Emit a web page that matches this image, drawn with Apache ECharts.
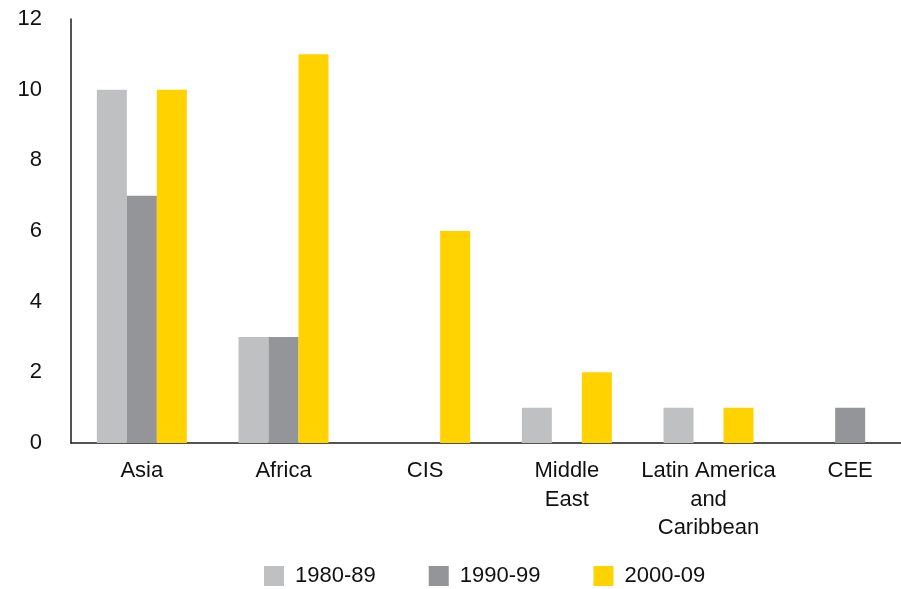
<!DOCTYPE html>
<html>
<head>
<meta charset="utf-8">
<script src="https://cdn.jsdelivr.net/npm/echarts@6/dist/echarts.min.js"></script>
<style>html,body{margin:0;padding:0;background:#fff;}#c{width:901px;height:589px;}</style>
</head>
<body>
<div id="c"></div>
<script>
const categories = ['Asia', 'Africa', 'CIS', 'Middle\nEast', 'Latin America\nand\nCaribbean', 'CEE'];
const s1980 = [10, 3, 0, 1, 1, 0];
const s1990 = [7, 3, 0, 0, 0, 1];
const s2000 = [10, 11, 6, 2, 1, 0];
const seriesNames = ['1980-89', '1990-99', '2000-09'];
const yTicks = { min: 0, max: 12, interval: 2 };

const font = 'Liberation Sans, Arial, sans-serif';
const chart = echarts.init(document.getElementById('c'), null, { renderer: 'canvas' });
const colors = ['#BFC0C2', '#939598', '#FFD200'];
chart.setOption({
  animation: false,
  color: colors,
  grid: { left: 71, top: 19, width: 850, height: 424, containLabel: false, outerBoundsMode: 'none' },
  legend: {
    left: 259,
    top: 560,
    itemWidth: 20,
    itemHeight: 20,
    itemGap: 53,
    icon: 'rect',
    textStyle: { fontFamily: font, fontSize: 22, color: '#111', padding: [0, 0, 0, 6] },
    data: seriesNames
  },
  xAxis: {
    type: 'category',
    data: categories,
    axisLine: { lineStyle: { color: '#1a1a1a', width: 1.5 } },
    axisTick: { show: false },
    axisLabel: { fontFamily: font, fontSize: 22, color: '#111', lineHeight: 28.5, margin: 14, interval: 0 }
  },
  yAxis: {
    type: 'value',
    min: yTicks.min, max: yTicks.max, interval: yTicks.interval,
    axisLine: { show: true, lineStyle: { color: '#1a1a1a', width: 1.5 } },
    axisTick: { show: false },
    splitLine: { show: false },
    axisLabel: { fontFamily: font, fontSize: 22, color: '#111', margin: 29 }
  },
  series: [
    { name: seriesNames[0], type: 'bar', data: s1980, barWidth: 30, barGap: '0%' },
    { name: seriesNames[1], type: 'bar', data: s1990, barWidth: 30, barGap: '0%' },
    { name: seriesNames[2], type: 'bar', data: s2000, barWidth: 30, barGap: '0%' }
  ]
});
</script>
</body>
</html>
